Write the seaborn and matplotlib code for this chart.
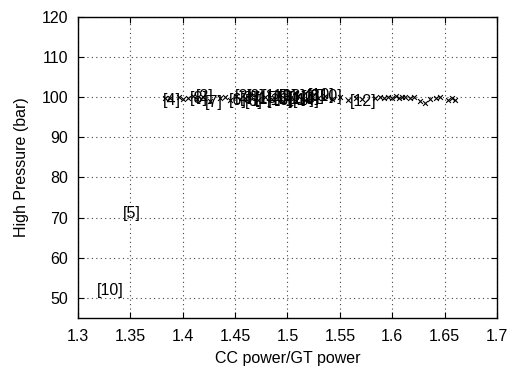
import numpy as np
import pandas as pd
import matplotlib
matplotlib.use("Agg")
import matplotlib.pyplot as plt
import seaborn as sns

# ----------------------------
# Data
# ----------------------------

ratio = [1.383, 1.388, 1.396, 1.400, 1.405, 1.410, 1.414, 1.419, 1.426, 1.436,
         1.440, 1.445, 1.451, 1.459, 1.464, 1.472, 1.479, 1.485, 1.491, 1.496,
         1.502, 1.510, 1.517, 1.523, 1.529, 1.536, 1.543, 1.550, 1.558, 1.565,
         1.571, 1.584, 1.588, 1.592, 1.596, 1.600, 1.604, 1.607, 1.609, 1.612,
         1.617, 1.621, 1.627, 1.631, 1.636, 1.642, 1.646, 1.653, 1.657, 1.660]
pressure = [99.8, 99.9, 100.0, 99.6, 99.9, 100.2, 99.5, 100.1, 99.0, 99.7,
            100.0, 99.3, 100.3, 99.8, 100.5, 99.2, 100.1, 99.6, 100.4, 99.1,
            99.9, 100.2, 99.4, 100.0, 99.7, 100.3, 99.5, 100.1, 99.3, 99.9,
            99.6, 99.7, 100.0, 99.8, 100.1, 99.9, 100.2, 99.8, 100.0, 100.1,
            99.9, 100.0, 99.0, 98.6, 99.6, 99.8, 100.1, 99.3, 99.7, 99.4]

label_text = ["[4]", "[8]", "[2]", "[7]", "[6]", "[3]", "[9]", "[1]", "[11]",
              "[5]", "[13]", "[14]", "[3]", "[10]", "[12]", "[2]", "[6]",
              "[15]", "[16]", "[9]", "[1]", "[14]", "[8]", "[10]",
              "[5]", "[10]"]
label_x = [1.390, 1.415, 1.421, 1.430, 1.453, 1.463, 1.470, 1.477, 1.488,
           1.496, 1.505, 1.513, 1.522, 1.532, 1.572, 1.458, 1.468,
           1.482, 1.493, 1.500, 1.510, 1.518, 1.527, 1.540,
           1.351, 1.331]
label_y = [99.3, 99.6, 100.2, 98.8, 99.2, 99.8, 100.3, 99.4, 100.1,
           99.6, 100.2, 99.5, 99.9, 100.4, 99.0, 100.2, 99.0,
           99.7, 99.2, 100.3, 99.8, 99.1, 100.2, 100.3,
           71.1, 51.8]

df = pd.DataFrame({"ratio": ratio, "pressure": pressure})

# ----------------------------
# Plot
# ----------------------------

sns.set_style("ticks")
plt.rcParams["font.family"] = ["Liberation Sans", "DejaVu Sans"]
plt.rcParams["text.color"] = "black"
plt.rcParams["axes.labelcolor"] = "black"

fig = plt.figure(figsize=(5.07, 3.78), dpi=100)
ax = fig.add_axes([0.154, 0.159, 0.826, 0.796])

sns.scatterplot(data=df, x="ratio", y="pressure", marker="x", color="black",
                s=12, linewidth=0.8, ax=ax, zorder=3)

for t, x, y in zip(label_text, label_x, label_y):
    ax.text(x, y, t, ha="center", va="center", fontsize=11.5, color="black", zorder=4)

ax.set_xlim(1.3, 1.7)
ax.set_ylim(45, 120)
ax.set_xticks(np.arange(1.3, 1.701, 0.05))
ax.set_xticklabels(["1.3", "1.35", "1.4", "1.45", "1.5", "1.55", "1.6", "1.65", "1.7"])
ax.set_yticks(np.arange(50, 121, 10))
ax.grid(True, linestyle=(0, (1, 3)), color="#444444", linewidth=0.8)
ax.tick_params(axis="both", direction="in", length=4, top=True, right=True,
               labelsize=11.5, width=0.8, colors="black", labelcolor="black")
ax.tick_params(axis="x", pad=8)
ax.tick_params(axis="y", pad=7)
for sp in ax.spines.values():
    sp.set_linewidth(1.0)
    sp.set_color("black")

ax.set_xlabel("CC power/GT power", fontsize=11.5, labelpad=5, color="black")
ax.set_ylabel("High Pressure (bar)", fontsize=11.5, labelpad=9, color="black")

fig.savefig("out.png", dpi=100)
